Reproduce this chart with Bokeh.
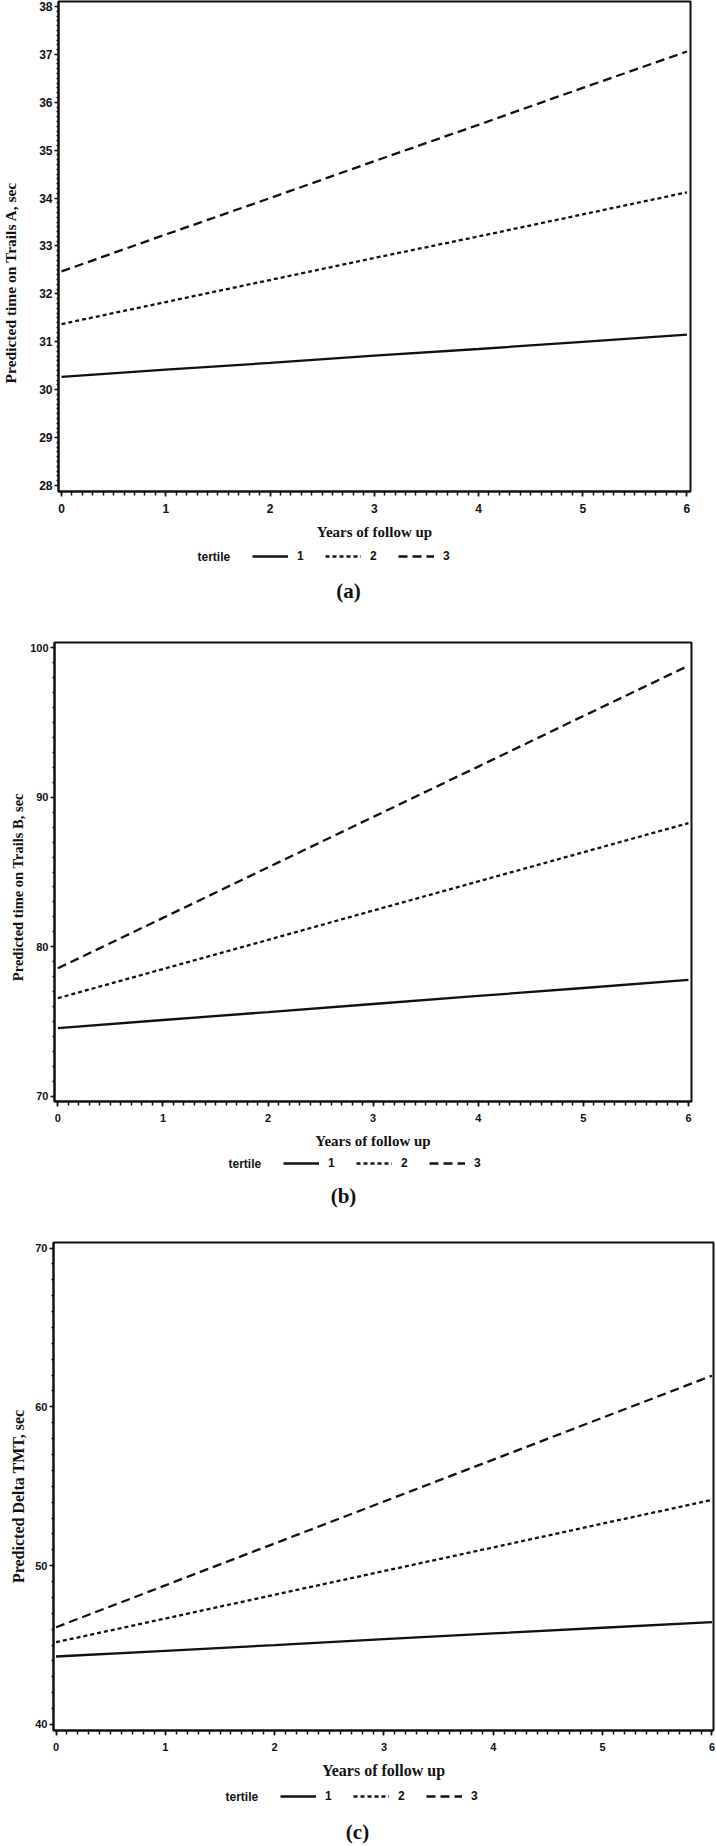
from math import pi
import numpy as np
from bokeh.plotting import figure
from bokeh.layouts import column, row
from bokeh.models import Range1d, FixedTicker, Legend, LegendItem, Label
from bokeh.embed import file_html
from bokeh.resources import INLINE

# ---------------- data ----------------
years = [0, 1, 2, 3, 4, 5, 6]
tertiles = ["1", "2", "3"]

a_t1 = [30.27, 30.42, 30.56, 30.71, 30.85, 31.00, 31.15]
a_t2 = [31.37, 31.83, 32.29, 32.75, 33.20, 33.66, 34.12]
a_t3 = [32.47, 33.24, 34.00, 34.77, 35.53, 36.30, 37.06]

b_t1 = [74.56, 75.10, 75.63, 76.17, 76.71, 77.24, 77.78]
b_t2 = [76.56, 78.51, 80.46, 82.42, 84.37, 86.32, 88.27]
b_t3 = [78.56, 81.93, 85.31, 88.68, 92.05, 95.43, 98.80]

c_t1 = [44.28, 44.64, 45.00, 45.37, 45.73, 46.09, 46.45]
c_t2 = [45.18, 46.67, 48.17, 49.66, 51.15, 52.65, 54.14]
c_t3 = [46.12, 48.76, 51.40, 54.04, 56.68, 59.32, 61.96]

x_ticks = [0, 1, 2, 3, 4, 5, 6]
a_yticks = [28, 29, 30, 31, 32, 33, 34, 35, 36, 37, 38]
b_yticks = [70, 80, 90, 100]
c_yticks = [40, 50, 60, 70]

a_ytitle = "Predicted time on Trails A, sec"
b_ytitle = "Predicted time on Trails B, sec"
c_ytitle = "Predicted Delta TMT, sec"
x_title = "Years of follow up"
legend_title = "tertile"
captions = ["(a)", "(b)", "(c)"]

# ---------------- styling / layout (page pixels) ----------------
SANS = "Liberation Sans"
SERIF = "Liberation Serif"
INK = "#111111"
DASHES = ["solid", "4 3", "9 5"]
LW = 2.3
W = 715          # width of each panel block
MBB = 53         # room under the frame for tick labels + x title
NAN = float("nan")

panels = [
    dict(series=[a_t1, a_t2, a_t3], yticks=a_yticks, ystep=0.1, ytitle=a_ytitle,
         top=0, frame=(58, 690, 1, 491), xr=(-0.029, 6.034), yr=(27.875, 38.104),
         L=24, ytitle_x=10, ytitle_y=312, ytitle_size=15.5, xtitle_size=15, tick_size=12,
         end=610, legend_x=197, legend_y=556, caption_x=348, caption_y=590),
    dict(series=[b_t1, b_t2, b_t3], yticks=b_yticks, ystep=1, ytitle=b_ytitle,
         top=610, frame=(54, 691, 642, 1101), xr=(-0.032, 6.029), yr=(69.65, 100.35),
         L=27, ytitle_x=17.5, ytitle_y=900, ytitle_size=14.5, xtitle_size=15, tick_size=11,
         end=1210, legend_x=228, legend_y=1163, caption_x=343, caption_y=1195),
    dict(series=[c_t1, c_t2, c_t3], yticks=c_yticks, ystep=1, ytitle=c_ytitle,
         top=1210, frame=(53, 713, 1242, 1730), xr=(-0.023, 6.014), yr=(39.62, 70.35),
         L=28, ytitle_x=17.5, ytitle_y=1508, ytitle_size=16, xtitle_size=16, tick_size=11,
         end=1844, legend_x=225, legend_y=1796, caption_x=357, caption_y=1831),
]


def blank(width, height):
    """A figure used only as a canvas for texts, in pixel coordinates (y down)."""
    f = figure(width=width, height=height, output_backend="svg", toolbar_location=None,
               x_range=Range1d(0, width), y_range=Range1d(height, 0),
               x_axis_type=None, y_axis_type=None,
               min_border=0, min_border_left=0, min_border_right=0,
               min_border_top=0, min_border_bottom=0)
    f.outline_line_color = None
    f.background_fill_color = "white"
    f.border_fill_color = "white"
    return f


def style_axis(ax, tick_size, major_out, minor_out, standoff):
    ax.axis_line_color = INK
    ax.axis_line_width = 2
    ax.major_tick_out = major_out
    ax.major_tick_in = 0
    ax.minor_tick_out = minor_out
    ax.minor_tick_in = 0
    ax.major_tick_line_width = 1.5
    ax.minor_tick_line_width = 1.5
    ax.major_tick_line_color = INK
    ax.minor_tick_line_color = INK
    ax.major_label_standoff = standoff
    ax.major_label_text_font = SANS
    ax.major_label_text_font_style = "bold"
    ax.major_label_text_font_size = f"{tick_size}px"
    ax.major_label_text_color = INK


def make_panel(cfg, caption):
    fl, fr, ft, fb = cfg["frame"]
    top, L = cfg["top"], cfg["L"]
    xs, xe = cfg["xr"]
    ys, ye = cfg["yr"]
    Hm = (fb + MBB) - top
    Wm = W - L
    bottom_top = top + Hm          # page y where the legend/caption strip starts
    Hs = cfg["end"] - bottom_top

    p = figure(width=Wm, height=Hm, output_backend="svg", toolbar_location=None,
               x_range=Range1d(xs, xe), y_range=Range1d(ys, ye),
               min_border_left=int(fl - L), min_border_right=int(W - fr),
               min_border_top=int(ft - top), min_border_bottom=MBB)
    p.grid.visible = False
    p.background_fill_color = "white"
    p.border_fill_color = "white"
    p.outline_line_color = INK
    p.outline_line_width = 2

    xminor = [round(v, 2) for v in np.arange(0, 6.0001, 0.1)]
    p.xaxis.ticker = FixedTicker(ticks=x_ticks, minor_ticks=xminor)
    style_axis(p.xaxis, cfg["tick_size"], 5, 4, 7)
    p.xaxis.axis_label = x_title
    p.xaxis.axis_label_text_font = SERIF
    p.xaxis.axis_label_text_font_style = "bold"
    p.xaxis.axis_label_text_font_size = f"{cfg['xtitle_size']}px"
    p.xaxis.axis_label_text_color = INK
    p.xaxis.axis_label_standoff = 8

    yt = cfg["yticks"]
    yminor = [round(v, 2) for v in np.arange(yt[0], yt[-1] + 1e-6, cfg["ystep"])]
    p.yaxis.ticker = FixedTicker(ticks=yt, minor_ticks=yminor)
    style_axis(p.yaxis, cfg["tick_size"], 4, 2, 2)

    for vals, dash in zip(cfg["series"], DASHES):
        p.line(years, vals, line_color=INK, line_width=LW, line_dash=dash)

    # y-axis title strip on the left
    left = blank(L, Hm)
    left.add_layout(Label(x=cfg["ytitle_x"], y=cfg["ytitle_y"] - top,
                          text=cfg["ytitle"], angle=pi / 2,
                          text_align="center", text_baseline="middle",
                          text_font=SERIF, text_font_style="bold",
                          text_font_size=f"{cfg['ytitle_size']}px", text_color=INK))

    # legend + caption strip below (legend keys are style-only, no visible data)
    bottom = blank(W, Hs)
    keys = [bottom.line(x=[NAN], y=[NAN], line_color=INK, line_width=LW, line_dash=d)
            for d in DASHES]
    items = [LegendItem(label=t, renderers=[r]) for t, r in zip(tertiles, keys)]
    ly = cfg["legend_y"] - bottom_top
    h = 14
    vy = Hs - ly - h / 2
    leg = Legend(items=items, orientation="horizontal",
                 location=(cfg["legend_x"] + 55, vy),
                 glyph_width=36, glyph_height=h, label_standoff=9,
                 label_width=8, label_height=h, spacing=20,
                 padding=0, margin=0, border_line_color=None,
                 background_fill_alpha=0,
                 label_text_font=SANS, label_text_font_style="bold",
                 label_text_font_size="12px", label_text_color=INK)
    bottom.add_layout(leg)
    bottom.add_layout(Label(x=cfg["legend_x"], y=ly, text=legend_title,
                            text_align="left", text_baseline="middle",
                            text_font=SANS, text_font_style="bold",
                            text_font_size="12px", text_color=INK))
    bottom.add_layout(Label(x=cfg["caption_x"], y=cfg["caption_y"] - bottom_top,
                            text=caption, text_align="center",
                            text_baseline="middle", text_font=SERIF,
                            text_font_style="bold", text_font_size="21px",
                            text_color=INK))

    return column(row(left, p, spacing=0), bottom, spacing=0)


blocks = [make_panel(cfg, cap) for cfg, cap in zip(panels, captions)]
layout = column(*blocks, spacing=0)

open("out.html", "w").write(file_html(layout, INLINE))
